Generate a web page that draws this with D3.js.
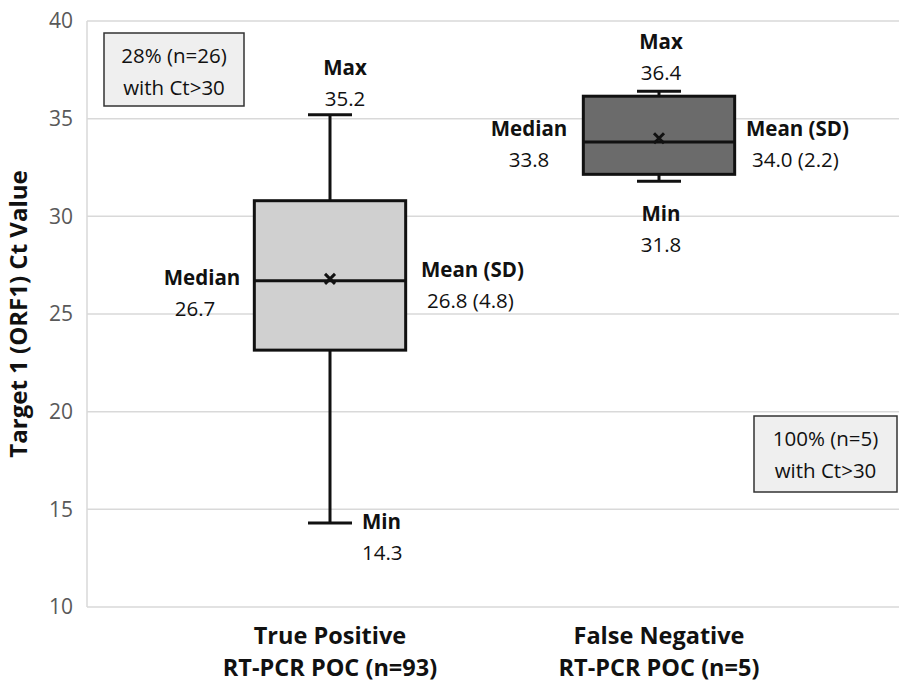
<!DOCTYPE html>
<html>
<head>
<meta charset="utf-8">
<script src="https://cdn.jsdelivr.net/npm/d3@7"></script>
<style>
  body { margin: 0; background: #fff; }
  svg { font-family: "Open Sans", Lato, sans-serif; }
</style>
</head>
<body>
<svg id="chart" width="899" height="682"></svg>
<script>
// data
var categories = ["True Positive|RT-PCR POC (n=93)", "False Negative|RT-PCR POC (n=5)"];
var minVals = [14.3, 31.8];
var q1Vals = [23.15, 32.15];
var medianVals = [26.7, 33.8];
var q3Vals = [30.8, 36.15];
var maxVals = [35.2, 36.4];
var meanVals = [26.8, 34.0];
var sdVals = [4.8, 2.2];
var fills = ["#d0d0d0", "#6b6b6b"];
var noteLines = [["28% (n=26)", "with Ct>30"], ["100% (n=5)", "with Ct>30"]];
var yTicks = [10, 15, 20, 25, 30, 35, 40];

var svg = d3.select("#chart");
var plotLeft = 87, plotRight = 899, plotTop = 21, plotBottom = 607;

var y = d3.scaleLinear().domain([10, 40]).range([plotBottom, plotTop]);
var x = d3.scaleBand().domain(categories).range([165.5, 823.5]);
var boxW = x.bandwidth() * 0.46;
var capW = 44;

// grid
svg.append("g")
  .selectAll("line")
  .data(yTicks)
  .enter().append("line")
    .attr("x1", plotLeft).attr("x2", plotRight)
    .attr("y1", d => y(d)).attr("y2", d => y(d))
    .attr("stroke", "#d9d9d9").attr("stroke-width", 1.5);

svg.append("line")
  .attr("x1", plotLeft).attr("x2", plotLeft).attr("y1", plotTop).attr("y2", plotBottom)
  .attr("stroke", "#d9d9d9").attr("stroke-width", 1.5);

// y axis labels
var yAxis = svg.append("g")
  .attr("transform", `translate(${plotLeft},0)`)
  .call(d3.axisLeft(y).tickValues(yTicks).tickSize(0).tickPadding(14));
yAxis.select(".domain").remove();
yAxis.selectAll("text")
  .attr("fill", "#595959")
  .style("font-size", "21px")
  .style("font-family", "'Open Sans', sans-serif");

svg.append("text")
  .attr("transform", `translate(27,${(plotTop + plotBottom) / 2}) rotate(-90)`)
  .attr("text-anchor", "middle")
  .style("font-size", "24px")
  .style("font-weight", "bold")
  .attr("fill", "#111")
  .text("Target 1 (ORF1) Ct Value");

// x labels
var xl = svg.append("g")
  .selectAll("text")
  .data(categories)
  .enter().append("text")
    .attr("text-anchor", "middle")
    .style("font-size", "23.5px")
    .style("font-weight", "bold")
    .attr("fill", "#111");
xl.append("tspan")
  .attr("x", d => x(d) + x.bandwidth() / 2).attr("y", 644)
  .text(d => d.split("|")[0]);
xl.append("tspan")
  .attr("x", d => x(d) + x.bandwidth() / 2).attr("y", 676)
  .text(d => d.split("|")[1]);

// boxes
var idx = d3.range(categories.length);
var g = svg.append("g")
  .selectAll("g")
  .data(idx)
  .enter().append("g");

var cx = i => x(categories[i]) + x.bandwidth() / 2;

g.append("line")
  .attr("x1", cx).attr("x2", cx)
  .attr("y1", i => y(maxVals[i])).attr("y2", i => y(minVals[i]))
  .attr("stroke", "#111").attr("stroke-width", 3);
g.append("line")
  .attr("x1", i => cx(i) - capW / 2).attr("x2", i => cx(i) + capW / 2)
  .attr("y1", i => y(maxVals[i])).attr("y2", i => y(maxVals[i]))
  .attr("stroke", "#111").attr("stroke-width", 3);
g.append("line")
  .attr("x1", i => cx(i) - capW / 2).attr("x2", i => cx(i) + capW / 2)
  .attr("y1", i => y(minVals[i])).attr("y2", i => y(minVals[i]))
  .attr("stroke", "#111").attr("stroke-width", 3);
g.append("rect")
  .attr("x", i => cx(i) - boxW / 2).attr("width", boxW)
  .attr("y", i => y(q3Vals[i])).attr("height", i => y(q1Vals[i]) - y(q3Vals[i]))
  .attr("fill", i => fills[i]).attr("stroke", "#111").attr("stroke-width", 3);
g.append("line")
  .attr("x1", i => cx(i) - boxW / 2).attr("x2", i => cx(i) + boxW / 2)
  .attr("y1", i => y(medianVals[i])).attr("y2", i => y(medianVals[i]))
  .attr("stroke", "#111").attr("stroke-width", 3);
// mean cross
g.append("path")
  .attr("d", i => {
    var px = cx(i), py = y(meanVals[i]), s = 5;
    return `M${px - s},${py - s}L${px + s},${py + s}M${px - s},${py + s}L${px + s},${py - s}`;
  })
  .attr("stroke", "#111").attr("stroke-width", 3);

// value labels
function label(px, py, anchor, head, val, indent) {
  var t = svg.append("text")
    .attr("text-anchor", anchor)
    .style("font-size", "20.5px")
    .attr("fill", "#111");
  t.append("tspan").attr("x", px).attr("y", py)
    .style("font-weight", "bold").text(head);
  t.append("tspan").attr("x", px + (indent || 0)).attr("y", py + 31)
    .text(val);
}

// True Positive
label(cx(0) + 15, y(maxVals[0]) - 40, "middle", "Max", maxVals[0].toFixed(1));
label(cx(0) - 128, y(medianVals[0]) + 4, "middle", "Median", medianVals[0].toFixed(1), -7);
label(cx(0) + 91, y(medianVals[0]) - 4, "start", "Mean (SD)",
  meanVals[0].toFixed(1) + " (" + sdVals[0].toFixed(1) + ")", 6);
label(cx(0) + 32, y(minVals[0]) + 6, "start", "Min", minVals[0].toFixed(1));

// False Negative
label(cx(1) + 2, y(maxVals[1]) - 42, "middle", "Max", maxVals[1].toFixed(1));
label(cx(1) - 130, y(medianVals[1]) - 6, "middle", "Median", medianVals[1].toFixed(1));
label(cx(1) + 87, y(medianVals[1]) - 6, "start", "Mean (SD)",
  meanVals[1].toFixed(1) + " (" + sdVals[1].toFixed(1) + ")", 6);
label(cx(1) + 2, y(minVals[1]) + 40, "middle", "Min", minVals[1].toFixed(1));

// note boxes
var notes = [{ x: 104, y: 33, w: 140, h: 73 }, { x: 754, y: 416, w: 143, h: 76 }];
notes.forEach(function (n, i) {
  svg.append("rect")
    .attr("x", n.x).attr("y", n.y).attr("width", n.w).attr("height", n.h)
    .attr("fill", "#efefef").attr("stroke", "#333").attr("stroke-width", 1.5);
  svg.append("text")
    .attr("text-anchor", "middle")
    .style("font-size", "20.5px")
    .attr("fill", "#111")
    .selectAll("tspan")
    .data(noteLines[i])
    .enter().append("tspan")
      .attr("x", n.x + n.w / 2)
      .attr("y", (d, j) => n.y + 30 + j * 32)
      .text(d => d);
});
</script>
</body>
</html>
